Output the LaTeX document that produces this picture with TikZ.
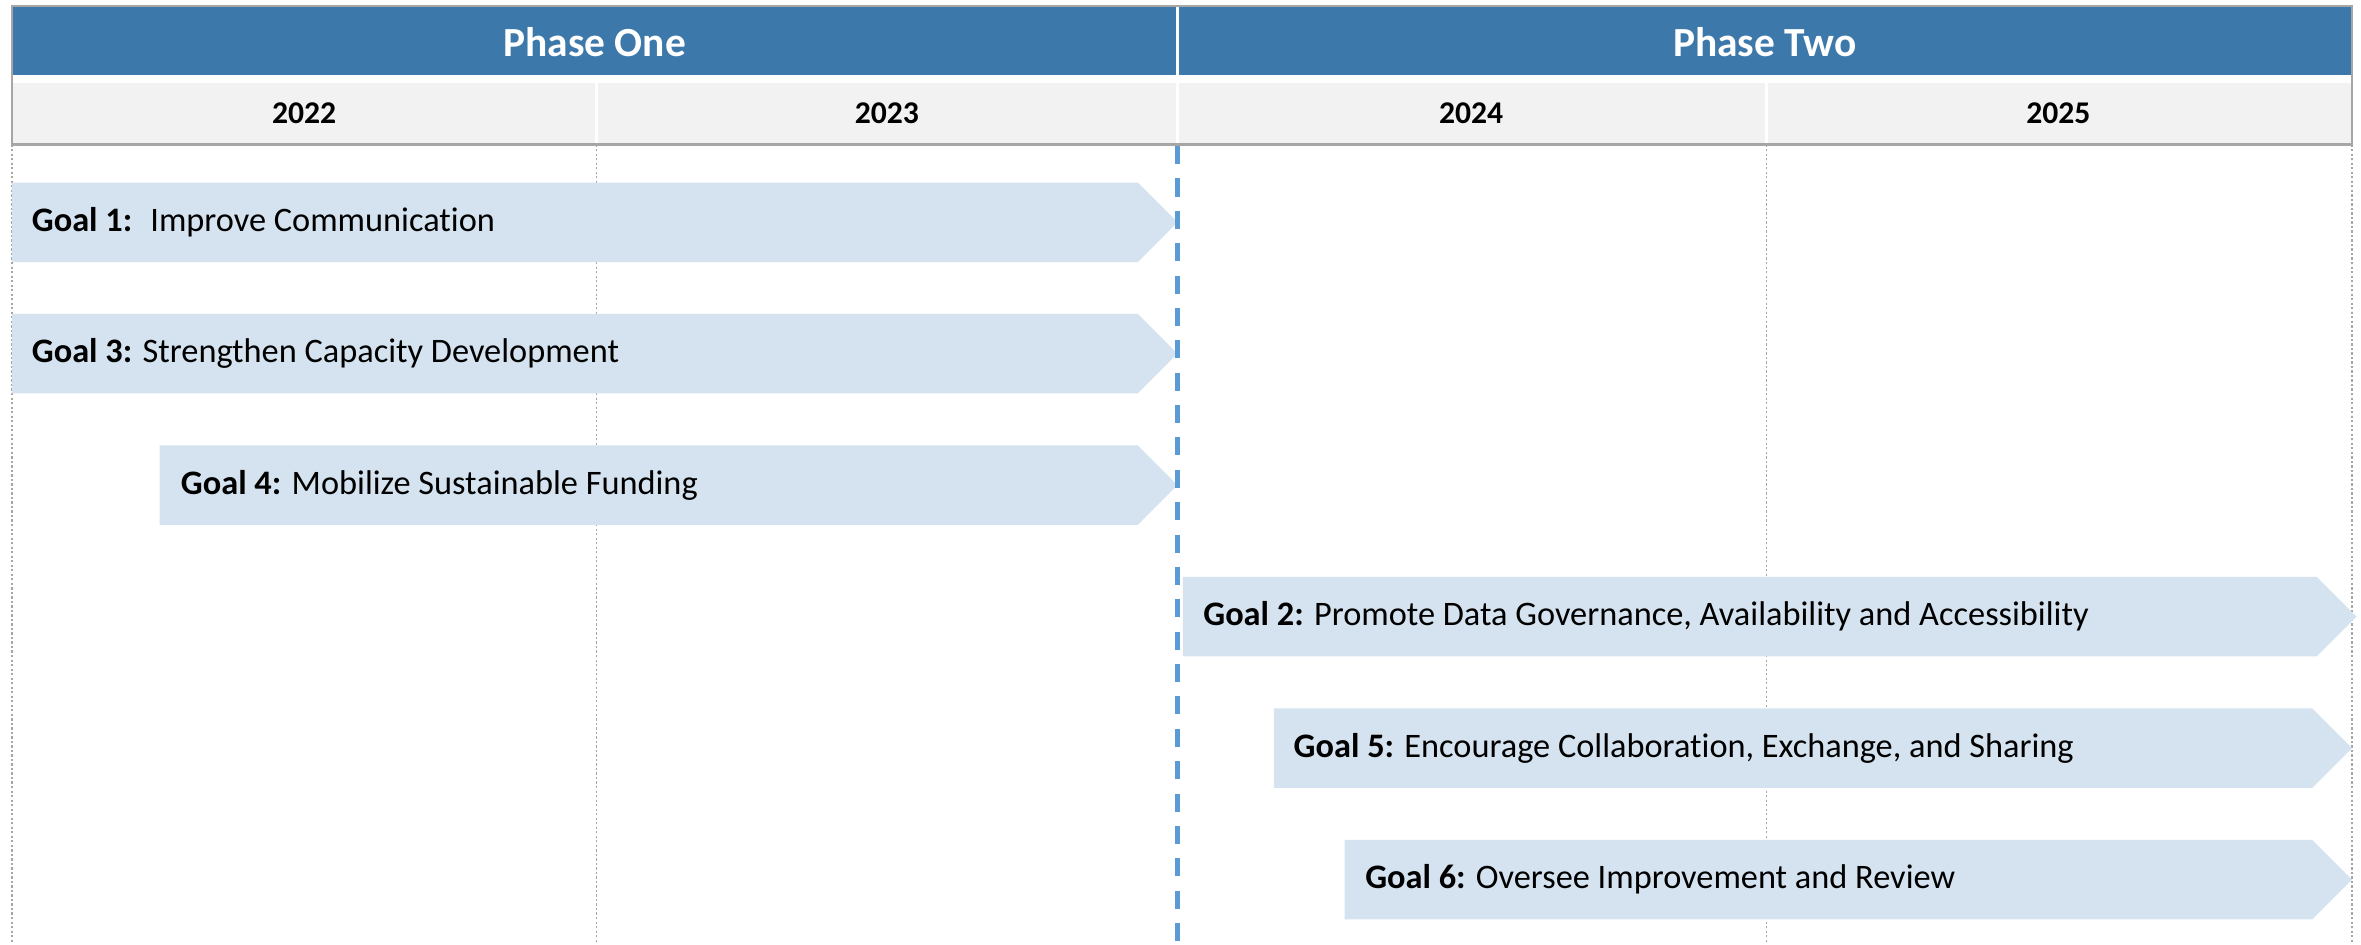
\documentclass[tikz,border=0pt]{standalone}
\usepackage{fontspec}
\setmainfont[Ligatures=NoCommon]{Carlito}
\definecolor{hdrblue}{HTML}{3C78A9}
\definecolor{yearbg}{HTML}{F2F2F2}
\definecolor{barfill}{HTML}{D4E3EF}
\definecolor{dashblue}{HTML}{5B9BD5}
\definecolor{framegray}{HTML}{A6A6A6}
\newcommand\goalbar[7]{% name, x left, x tip, y top, text x, label, text
  \fill[bar] (#2,#4) -- ({#3-26.4},#4) -- (#3,{#4+26.4}) -- ({#3-26.4},{#4+52.8}) -- (#2,{#4+52.8}) -- cycle;
  \node[goaltext] (#1) at (#5,{#4+26.4}) {\textbf{#6} #7};}
\begin{document}
\begin{tikzpicture}[x=1pt,y=-1pt,
  bar/.style={fill=barfill},
  goaltext/.style={anchor=west,inner sep=0pt,font=\fontsize{22.8}{26}\selectfont},
  yeartext/.style={inner sep=0pt,font=\fontsize{21}{24}\selectfont\bfseries},
  phasetext/.style={inner sep=0pt,text=white,font=\fontsize{27.5}{30}\selectfont\bfseries},
  gridline/.style={draw=framegray,line width=1pt,dash pattern=on 1.5pt off 1.5pt},
  divider/.style={draw=white,line width=1.8pt},
  milestone/.style={draw=dashblue,line width=2.7pt,dash pattern=on 12pt off 9.5pt},
]
\useasboundingbox (0,0) rectangle (1568,627);
% header bands
\fill[hdrblue] (8,4) rectangle (1562,50);
\fill[yearbg] (8,55) rectangle (1562,96);
\draw[divider] (782,4) -- (782,96);
\draw[divider] (396,55) -- (396,96);
\draw[divider] (1173,55) -- (1173,96);
\draw[framegray,line width=1.5pt] (8,4) rectangle (1562,96);
% header texts
\node[phasetext] (p1) at (395,28) {Phase One};
\node[phasetext] (p2) at (1172,28) {Phase Two};
\node[yeartext] (y1) at (202,75) {2022};
\node[yeartext] (y2) at (589,75) {2023};
\node[yeartext] (y3) at (977,75) {2024};
\node[yeartext] (y4) at (1367,75) {2025};
% grid coordinates
\coordinate (g0t) at (8,96);    \coordinate (g0b) at (8,627);
\coordinate (g1t) at (396,96);  \coordinate (g1b) at (396,627);
\coordinate (g2t) at (1173,96); \coordinate (g2b) at (1173,627);
\coordinate (g3t) at (1562,96); \coordinate (g3b) at (1562,627);
\coordinate (mt) at (782,97);   \coordinate (mb) at (782,627);
\draw[gridline] (g0t) -- (g0b);
\draw[gridline] (g1t) -- (g1b);
\draw[gridline] (g2t) -- (g2b);
\draw[gridline] (g3t) -- (g3b);
% goal bars
\goalbar{goal1}{8}{782}{121.2}{21}{Goal 1:}{\ Improve Communication}
\goalbar{goal3}{8}{782}{208.5}{21}{Goal 3:}{Strengthen Capacity Development}
\goalbar{goal4}{106}{782}{295.8}{120}{Goal 4:}{Mobilize Sustainable Funding}
\goalbar{goal2}{785.6}{1565}{383.1}{799}{Goal 2:}{Promote Data Governance, Availability and Accessibility}
\goalbar{goal5}{846}{1562}{470.4}{859}{Goal 5:}{Encourage Collaboration, Exchange, and Sharing}
\goalbar{goal6}{893}{1562}{557.7}{906.5}{Goal 6:}{Oversee Improvement and Review}
% phase boundary
\draw[milestone] (mt) -- (mb);
\end{tikzpicture}
\end{document}
